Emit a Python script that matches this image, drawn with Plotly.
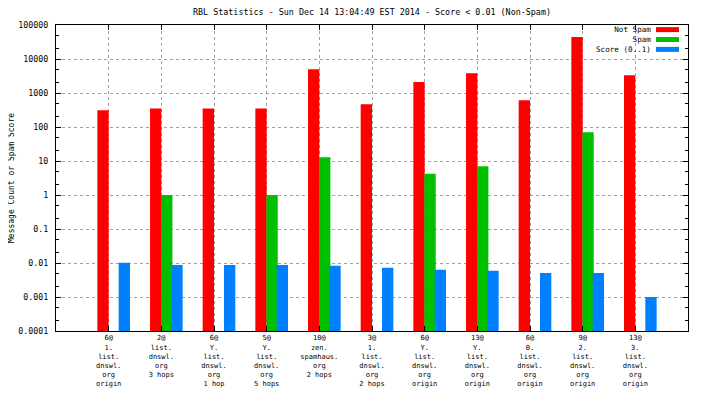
import plotly.graph_objects as go

categories = [
    "6@<br>1.<br>list.<br>dnswl.<br>org<br>origin",
    "2@<br>list.<br>dnswl.<br>org<br>3 hops",
    "6@<br>Y.<br>list.<br>dnswl.<br>org<br>1 hop",
    "5@<br>Y.<br>list.<br>dnswl.<br>org<br>5 hops",
    "10@<br>zen.<br>spamhaus.<br>org<br>2 hops",
    "3@<br>1.<br>list.<br>dnswl.<br>org<br>2 hops",
    "6@<br>Y.<br>list.<br>dnswl.<br>org<br>origin",
    "13@<br>Y.<br>list.<br>dnswl.<br>org<br>origin",
    "6@<br>0.<br>list.<br>dnswl.<br>org<br>origin",
    "9@<br>2.<br>list.<br>dnswl.<br>org<br>origin",
    "13@<br>3.<br>list.<br>dnswl.<br>org<br>origin",
]
not_spam = [310, 350, 350, 350, 5000, 470, 2100, 3800, 610, 44000, 3300]
spam = [None, 1, None, 1, 13, None, 4.2, 7, None, 70, None]
score = [0.0102, 0.0088, 0.0088, 0.0088, 0.0083, 0.0072, 0.0063, 0.0059, 0.0051, 0.0051, 0.001]

series_names = ["Not Spam", "Spam", "Score (0..1)"]
series_colors = ["#ff0000", "#00c000", "#0080ff"]

y_tickvals = [1e-4, 1e-3, 1e-2, 1e-1, 1, 10, 100, 1000, 10000, 100000]
y_ticktext = ["0.0001", "0.001", "0.01", "0.1", "1", "10", "100", "1000", "10000", "100000"]

title_text = "RBL Statistics - Sun Dec 14 13:04:49 EST 2014 - Score < 0.01 (Non-Spam)"
y_title = "Message Count or Spam Score"

FONT = "DejaVu Sans Mono"
xpos = list(range(len(categories)))

# the page body has an 8px default margin (top/left); size the figure so the plot lands where the reference has it
PAGE_OFF = 8
W, H = 704 - PAGE_OFF, 396 - PAGE_OFF

fig = go.Figure()
offsets = [-0.215, -0.005, 0.19]
for name, vals, col, off in zip(series_names, [not_spam, spam, score], series_colors, offsets):
    fig.add_trace(go.Bar(
        x=xpos, y=vals, name=name, marker=dict(color=col, line=dict(width=0)),
        offset=off, width=0.215, showlegend=False,
    ))

minor_vals = []
for e in range(-4, 5):
    for m in (2, 5):
        minor_vals.append(m * 10 ** e)

fig.update_layout(
    width=W, height=H,
    margin=dict(l=56 - PAGE_OFF, r=16, t=25 - PAGE_OFF, b=65, autoexpand=False),
    paper_bgcolor="white", plot_bgcolor="white",
    barmode="overlay",
    font=dict(family=FONT, size=8, color="black"),
    title=dict(text=title_text, x=0.5, xref="paper", xanchor="center",
               y=1 - (12 - PAGE_OFF) / H, yref="container", yanchor="middle",
               font=dict(family=FONT, size=8.4, color="black")),
    xaxis=dict(
        range=[-1, 11], tickmode="array", tickvals=xpos, ticktext=categories,
        showline=True, linecolor="black", linewidth=1, mirror="ticks",
        ticks="inside", ticklen=5, tickcolor="black",
        showgrid=True, gridcolor="#a0a0a0", griddash="3px,3px", gridwidth=1,
        zeroline=False, tickangle=0,
        tickfont=dict(family=FONT, size=7, color="black"),
    ),
    yaxis=dict(
        type="log", range=[-4, 5], tickmode="array", tickvals=y_tickvals, ticktext=y_ticktext,
        showline=True, linecolor="black", linewidth=1, mirror="ticks",
        ticks="inside", ticklen=5, tickcolor="black",
        showgrid=True, gridcolor="#a0a0a0", griddash="3px,3px", gridwidth=1,
        zeroline=False, ticklabelstandoff=5,
        tickfont=dict(family=FONT, size=8.3, color="black"),
        minor=dict(tickmode="array", tickvals=minor_vals, ticks="inside", ticklen=3,
                   tickcolor="black", showgrid=False),
    ),
)

fig.add_annotation(text=y_title, xref="paper", yref="paper", x=0, y=0.5,
                   xshift=-45, textangle=-90, showarrow=False,
                   xanchor="center", yanchor="middle",
                   font=dict(family=FONT, size=8, color="black"))

# manual legend (text right-aligned, swatch at right), like the reference
LEG_SIZE = 7.6
line_h = LEG_SIZE * 1.3
mid = 14.5
row_offsets = [mid - line_h, mid, mid + line_h]
fig.add_annotation(text="<br>".join(series_names), xref="paper", yref="paper", x=1, y=1,
                   xshift=-35, yshift=-mid, xanchor="right", yanchor="middle", align="right",
                   showarrow=False, font=dict(family=FONT, size=LEG_SIZE, color="black"))
for col, ro in zip(series_colors, row_offsets):
    fig.add_shape(type="rect", xref="paper", yref="paper",
                  xsizemode="pixel", ysizemode="pixel", xanchor=1, yanchor=1,
                  x0=-32, x1=-9, y0=-(ro - 2.5), y1=-(ro + 2.5),
                  fillcolor=col, line=dict(width=0))

fig.write_html("out.html")
